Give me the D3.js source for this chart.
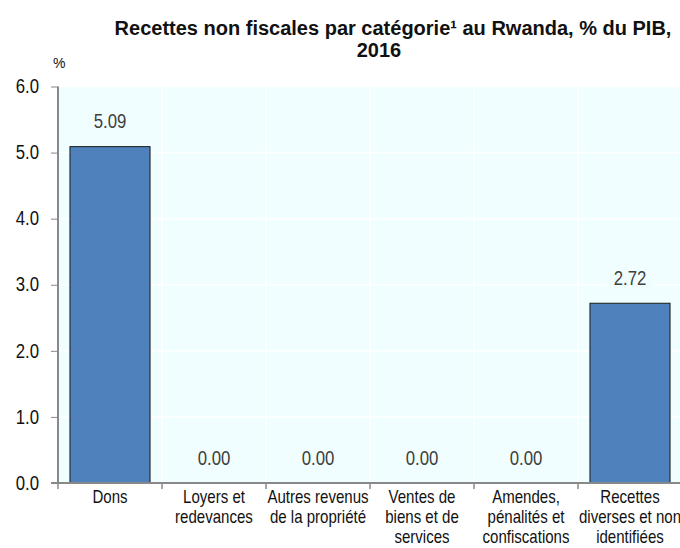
<!DOCTYPE html>
<html>
<head>
<meta charset="utf-8">
<script src="https://cdn.jsdelivr.net/npm/d3@7"></script>
<style>
  body { margin: 0; background: #fff; }
  svg { font-family: "Liberation Sans", Arial, sans-serif; }
</style>
</head>
<body>
<svg id="chart" width="680" height="548"></svg>
<script>
// donnees
var categories = [
  ["Dons"],
  ["Loyers et", "redevances"],
  ["Autres revenus", "de la propriété"],
  ["Ventes de", "biens et de", "services"],
  ["Amendes,", "pénalités et", "confiscations"],
  ["Recettes", "diverses et non", "identifiées"]
];
var values = [5.09, 0.00, 0.00, 0.00, 0.00, 2.72];
var yTicks = [0, 1, 2, 3, 4, 5, 6];

var svg = d3.select("#chart");
var pLeft = 58, pRight = 682, pTop = 86.5, pBottom = 483;
var sx = 0.86; // texte un peu etroit comme l'original

var x = d3.scaleBand()
  .domain(d3.range(categories.length))
  .range([pLeft, pRight])
  .paddingInner(0.23)
  .paddingOuter(0.115);
var xb = d3.scaleBand().domain(d3.range(categories.length)).range([pLeft, pRight]);
var y = d3.scaleLinear().domain([0, 6]).range([pBottom, pTop]);

// fond
svg.append("rect")
  .attr("x", pLeft).attr("y", pTop)
  .attr("width", pRight - pLeft).attr("height", pBottom - pTop)
  .attr("fill", "#F1FEFF");

// grille
svg.selectAll(".hg").data(yTicks.slice(1)).enter().append("line")
  .attr("x1", pLeft).attr("x2", pRight)
  .attr("y1", function(d){ return y(d); }).attr("y2", function(d){ return y(d); })
  .attr("stroke", "#fff").attr("stroke-width", 1.5);
svg.selectAll(".vg").data(d3.range(1, categories.length)).enter().append("line")
  .attr("x1", function(d){ return xb(d); }).attr("x2", function(d){ return xb(d); })
  .attr("y1", pTop).attr("y2", pBottom)
  .attr("stroke", "#fff").attr("stroke-width", 1.5);

// barres
svg.selectAll(".bar").data(values).enter().append("rect")
  .attr("x", function(d, i){ return x(i); })
  .attr("y", function(d){ return y(d); })
  .attr("width", x.bandwidth())
  .attr("height", function(d){ return pBottom - y(d); })
  .attr("fill", "#4F81BD")
  .attr("stroke", "#1a1a1a")
  .attr("stroke-width", 1);

// etiquettes
var lab = svg.selectAll(".lab").data(values).enter().append("g")
  .attr("transform", function(d, i){
    return "translate(" + (xb(i) + xb.bandwidth()/2) + "," + (y(d) - 18.5) + ")";
  });
lab.append("rect")
  .attr("x", -23).attr("y", -18)
  .attr("width", 46).attr("height", 24)
  .attr("fill", "#F1FEFF");
lab.append("text")
  .attr("transform", "scale(" + sx + ",1)")
  .attr("text-anchor", "middle")
  .attr("font-size", 19.5)
  .attr("fill", "#404040")
  .text(function(d){ return d.toFixed(2); });

// axe y
var yAxis = svg.append("g")
  .attr("transform", "translate(" + pLeft + ",0)")
  .call(d3.axisLeft(y).tickValues(yTicks).tickSize(7).tickPadding(12)
    .tickFormat(function(d){ return d.toFixed(1); }));
yAxis.selectAll("text")
  .attr("font-size", 19.5).attr("fill", "#111")
  .attr("font-family", "Liberation Sans, Arial, sans-serif")
  .attr("x", -19 / sx)
  .attr("transform", "scale(" + sx + ",1)");
yAxis.selectAll("line").attr("stroke", "#888");
yAxis.select(".domain").attr("stroke", "#888").attr("stroke-width", 2)
  .attr("d", "M0," + pBottom + "V" + pTop);

// axe x
var xAxis = svg.append("g");
xAxis.append("line")
  .attr("x1", pLeft - 7).attr("x2", pRight)
  .attr("y1", pBottom).attr("y2", pBottom)
  .attr("stroke", "#888").attr("stroke-width", 2);
xAxis.selectAll(".xt").data(d3.range(categories.length)).enter().append("line")
  .attr("x1", function(d){ return xb(d); }).attr("x2", function(d){ return xb(d); })
  .attr("y1", pBottom).attr("y2", pBottom + 6)
  .attr("stroke", "#888").attr("stroke-width", 1.5);
xAxis.selectAll(".xl").data(categories).enter().append("g")
  .attr("transform", function(d, i){
    return "translate(" + (xb(i) + xb.bandwidth()/2) + ",503) scale(" + sx + ",1)";
  })
  .append("text")
  .attr("text-anchor", "middle")
  .attr("font-size", 17.5)
  .attr("fill", "#111")
  .each(function(d){
    var t = d3.select(this);
    d.forEach(function(s, j){
      t.append("tspan")
        .attr("x", 0)
        .attr("y", j * 20)
        .text(s);
    });
  });

// titre
svg.append("text")
  .attr("x", 393).attr("y", 35)
  .attr("text-anchor", "middle")
  .attr("font-size", 20).attr("font-weight", "bold")
  .attr("fill", "#111")
  .text("Recettes non fiscales par catégorie¹ au Rwanda, % du PIB,");
svg.append("text")
  .attr("x", 379).attr("y", 57)
  .attr("text-anchor", "middle")
  .attr("font-size", 20).attr("font-weight", "bold")
  .attr("fill", "#111")
  .text("2016");
svg.append("text")
  .attr("x", 53).attr("y", 68)
  .attr("font-size", 14)
  .attr("fill", "#111")
  .text("%");
</script>
</body>
</html>
